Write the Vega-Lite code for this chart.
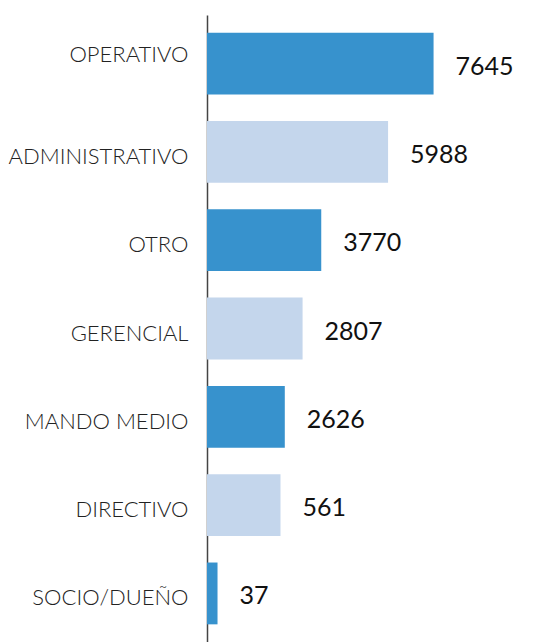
{
  "$schema": "https://vega.github.io/schema/vega-lite/v6.json",
  "autosize": "none",
  "width": 326,
  "height": 627,
  "padding": {"left": 207, "top": 15, "right": 0, "bottom": 0},
  "background": "white",
  "config": {"view": {"stroke": null}},
  "data": {
    "values": [
      {"puesto": "OPERATIVO", "valor": 7645, "largo": 7645},
      {"puesto": "ADMINISTRATIVO", "valor": 5988, "largo": 6110},
      {"puesto": "OTRO", "valor": 3770, "largo": 3855},
      {"puesto": "GERENCIAL", "valor": 2807, "largo": 3225},
      {"puesto": "MANDO MEDIO", "valor": 2626, "largo": 2625},
      {"puesto": "DIRECTIVO", "valor": 561, "largo": 2480},
      {"puesto": "SOCIO/DUEÑO", "valor": 37, "largo": 355}
    ]
  },
  "encoding": {
    "y": {
      "field": "puesto",
      "type": "nominal",
      "sort": null,
      "scale": {"paddingInner": 0.3, "paddingOuter": 0.2},
      "axis": {
        "title": null,
        "ticks": false,
        "domainColor": "#444444",
        "domainWidth": 1.5,
        "labelFont": "Lato",
        "labelFontWeight": 300,
        "labelFontSize": 22,
        "labelLimit": 300,
        "labelColor": "#222222",
        "labelPadding": 19,
        "labelOffset": {"condition": {"test": "datum.value === 'OPERATIVO'", "value": -9}, "value": 5}
      }
    }
  },
  "layer": [
    {
      "mark": {"type": "bar"},
      "encoding": {
        "x": {"field": "largo", "type": "quantitative", "scale": {"domain": [0, 10830]}, "axis": null},
        "color": {
          "condition": {"test": "indexof(['OPERATIVO','OTRO','MANDO MEDIO','SOCIO/DUEÑO'], datum.puesto) >= 0", "value": "#3792cd"},
          "value": "#c4d6ec"
        }
      }
    },
    {
      "mark": {"type": "text", "align": "left", "baseline": "middle", "dx": 22, "dy": 3, "font": "Lato", "fontSize": 25, "color": "#111111"},
      "encoding": {
        "x": {"field": "largo", "type": "quantitative"},
        "text": {"field": "valor", "type": "quantitative", "format": "d"}
      }
    }
  ]
}
